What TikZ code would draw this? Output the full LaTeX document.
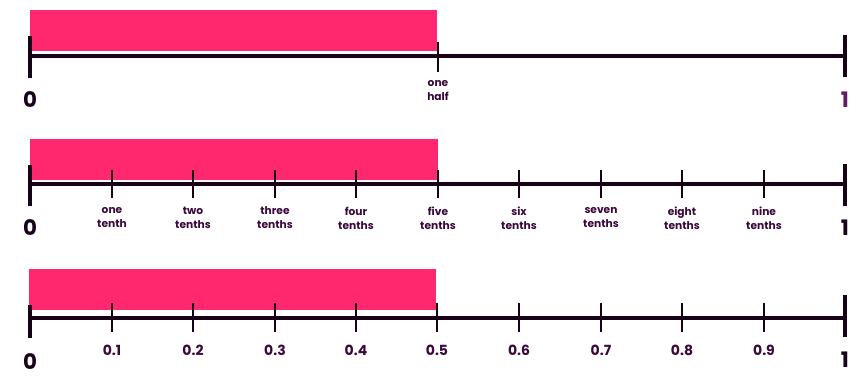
\documentclass[tikz,border=0pt]{standalone}
\usepackage{fontspec}
\setmainfont{Poppins}
\definecolor{barpink}{RGB}{255,40,110}
\definecolor{linedark}{RGB}{24,2,24}
\definecolor{labpurple}{RGB}{58,8,58}
\definecolor{onepurple}{RGB}{100,25,105}
\tikzset{
  pinkbar/.style={fill=barpink, draw=none},
  axisline/.style={draw=linedark, line width=2.6pt},
  endtick/.style={draw=linedark, line width=3pt},
  tenthtick/.style={draw=linedark, line width=2pt},
  smalllab/.style={text=labpurple, font=\bfseries\fontsize{8}{10.5}\selectfont, align=center, inner sep=0.75pt},
  declab/.style={text=labpurple, font=\bfseries\fontsize{10.5}{12}\selectfont, inner sep=0.75pt},
  endlab/.style={text=linedark, font=\bfseries\fontsize{16}{18}\selectfont, inner sep=0.75pt}
}

\begin{document}
\begin{tikzpicture}[x=0.75pt,y=0.75pt,yscale=-1,xscale=1]
\path[use as bounding box] (0,0) rectangle (864,386);

%First line: halves
\fill[pinkbar] (30,10) rectangle (437,51);
\draw[axisline] (30,56) -- (845,56);
\draw[endtick] (30,36) -- (30,78);
\draw[endtick] (845,35) -- (845,77);
\draw[tenthtick] (438,42) -- (438,72);
% Text Node
\draw (30,100) node [endlab] (zeroA) {0};
% Text Node
\draw (845,100) node [endlab, text=onepurple] (oneA) {1};
% Text Node
\draw (438,91) node [smalllab] (halfA) {one\\half};

%Second line: tenths in words
\fill[pinkbar] (30,139) rectangle (438,180);
\draw[axisline] (30,184) -- (845,184);
\draw[endtick] (30,165) -- (30,206);
\draw[endtick] (845,164) -- (845,206);
\draw[tenthtick] (112,170) -- (112,198);
\draw[tenthtick] (193,170) -- (193,198);
\draw[tenthtick] (275,170) -- (275,198);
\draw[tenthtick] (356,170) -- (356,198);
\draw[tenthtick] (438,170) -- (438,198);
\draw[tenthtick] (519,170) -- (519,198);
\draw[tenthtick] (601,170) -- (601,198);
\draw[tenthtick] (682,170) -- (682,198);
\draw[tenthtick] (764,170) -- (764,198);
% Text Node
\draw (30,228) node [endlab] (zeroB) {0};
% Text Node
\draw (845,228) node [endlab] (oneB) {1};
% Text Node
\draw (112,218) node [smalllab] (tenB1) {one\\tenth};
\draw (193,218) node [smalllab] (tenB2) {two\\tenths};
\draw (275,218) node [smalllab] (tenB3) {three\\tenths};
\draw (356,218) node [smalllab] (tenB4) {four\\tenths};
\draw (438,218) node [smalllab] (tenB5) {five\\tenths};
\draw (519,218) node [smalllab] (tenB6) {six\\tenths};
\draw (601,218) node [smalllab] (tenB7) {seven\\tenths};
\draw (682,218) node [smalllab] (tenB8) {eight\\tenths};
\draw (764,218) node [smalllab] (tenB9) {nine\\tenths};

%Third line: decimals
\fill[pinkbar] (29,269) rectangle (436,310);
\draw[axisline] (30,318) -- (845,318);
\draw[endtick] (30,305) -- (30,338);
\draw[endtick] (845,295) -- (845,337);
\draw[tenthtick] (112,303) -- (112,332);
\draw[tenthtick] (193,303) -- (193,332);
\draw[tenthtick] (275,303) -- (275,332);
\draw[tenthtick] (356,303) -- (356,332);
\draw[tenthtick] (437,303) -- (437,332);
\draw[tenthtick] (519,303) -- (519,332);
\draw[tenthtick] (601,303) -- (601,332);
\draw[tenthtick] (682,303) -- (682,332);
\draw[tenthtick] (764,303) -- (764,332);
% Text Node
\draw (30,362) node [endlab] (zeroC) {0};
% Text Node
\draw (845,360) node [endlab] (oneC) {1};
% Text Node
\draw (112,350) node [declab] (decC1) {0.1};
\draw (193,350) node [declab] (decC2) {0.2};
\draw (275,350) node [declab] (decC3) {0.3};
\draw (356,350) node [declab] (decC4) {0.4};
\draw (437,350) node [declab] (decC5) {0.5};
\draw (519,350) node [declab] (decC6) {0.6};
\draw (601,350) node [declab] (decC7) {0.7};
\draw (682,350) node [declab] (decC8) {0.8};
\draw (764,350) node [declab] (decC9) {0.9};

\end{tikzpicture}
\end{document}
